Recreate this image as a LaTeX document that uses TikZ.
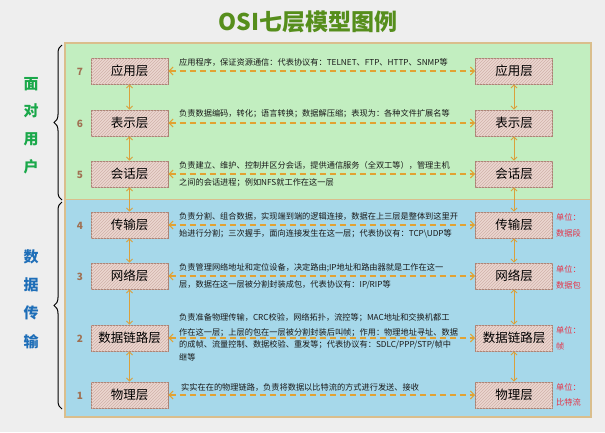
\documentclass[tikz,border=0pt]{standalone}
\usepackage{fontspec}
\setmainfont{Noto Sans CJK SC}
\usetikzlibrary{arrows.meta,patterns,decorations.pathreplacing}
\definecolor{bgc}{RGB}{238,238,238}
\definecolor{greenp}{RGB}{194,238,192}
\definecolor{bluep}{RGB}{166,216,234}
\definecolor{panelb}{RGB}{218,190,140}
\definecolor{boxfill}{RGB}{236,214,208}
\definecolor{boxline}{RGB}{170,130,115}
\definecolor{hatchc}{RGB}{208,178,170}
\definecolor{dashc}{RGB}{226,162,50}
\definecolor{varrow}{RGB}{218,160,60}
\definecolor{numc}{RGB}{160,112,82}
\definecolor{titlec}{RGB}{86,142,28}
\definecolor{greent}{RGB}{26,168,74}
\definecolor{bluet}{RGB}{30,110,184}
\definecolor{unitc}{RGB}{230,50,70}
\tikzset{
  layerbox/.style={draw=boxline, line width=0.8pt, fill=boxfill,
    postaction={pattern=north east lines, pattern color=hatchc},
    minimum width=77pt, minimum height=26pt, inner sep=0pt,
    font=\fontsize{12.5}{14}\selectfont},
  layernum/.style={text=numc, font=\bfseries\fontsize{10}{12}\selectfont},
  desc/.style={anchor=west, inner sep=0pt, text=black!90, font=\fontsize{8.2}{10}\selectfont},
  unit/.style={anchor=west, inner sep=0pt, text=unitc, font=\fontsize{8.2}{10}\selectfont},
  peer/.style={draw=dashc, line width=1.3pt, dash pattern=on 6pt off 4pt,
    {Straight Barb[length=4pt,width=8pt,line width=1pt]}-{Straight Barb[length=4pt,width=8pt,line width=1pt]}},
  updown/.style={draw=varrow, line width=1pt,
    {Straight Barb[length=3pt,width=6pt,line width=0.9pt]}-{Straight Barb[length=3pt,width=6pt,line width=0.9pt]}},
  sidelabel/.style={font=\bfseries\fontsize{15}{18}\selectfont},
  bracestyle/.style={draw=black, line width=1pt, decorate, decoration={brace, amplitude=8pt}}
}
\begin{document}
\begin{tikzpicture}[x=1pt,y=-1pt]
\useasboundingbox (0,0) rectangle (605,432);
\fill[bgc] (0,0) rectangle (605,432);
% title
\node[text=titlec, font=\bfseries\fontsize{23}{26}\selectfont] (title) at (308,22) {OSI七层模型图例};
% panels
\fill[greenp] (65,43) rectangle (591,199);
\fill[bluep] (65,199) rectangle (591,417);
\draw[panelb, line width=0.8pt] (65,199) -- (591,199);
\draw[panelb, line width=1.2pt] (65,43) rectangle (591,417);
% braces
\coordinate (gb1) at (62,200);
\coordinate (gb2) at (62,45);
\coordinate (bb1) at (62,409);
\coordinate (bb2) at (62,202);
\draw[bracestyle] (gb1) -- (gb2);
\draw[bracestyle] (bb1) -- (bb2);
% side labels
\node[sidelabel, text=greent] (s1) at (31,84) {面};
\node[sidelabel, text=greent] (s2) at (31,111) {对};
\node[sidelabel, text=greent] (s3) at (31,139) {用};
\node[sidelabel, text=greent] (s4) at (31,167) {户};
\node[sidelabel, text=bluet] (s5) at (31,257) {数};
\node[sidelabel, text=bluet] (s6) at (31,285) {据};
\node[sidelabel, text=bluet] (s7) at (31,313) {传};
\node[sidelabel, text=bluet] (s8) at (31,342) {输};
% layer boxes
\node[layerbox] (L7) at (129.5,71) {应用层};
\node[layerbox] (L6) at (129.5,123) {表示层};
\node[layerbox] (L5) at (129.5,174) {会话层};
\node[layerbox] (L4) at (129.5,225) {传输层};
\node[layerbox] (L3) at (129.5,276) {网络层};
\node[layerbox] (L2) at (129.5,338) {数据链路层};
\node[layerbox] (L1) at (129.5,395) {物理层};
\node[layerbox] (R7) at (514,71) {应用层};
\node[layerbox] (R6) at (514,123) {表示层};
\node[layerbox] (R5) at (514,174) {会话层};
\node[layerbox] (R4) at (514,225) {传输层};
\node[layerbox] (R3) at (514,276) {网络层};
\node[layerbox] (R2) at (514,338) {数据链路层};
\node[layerbox] (R1) at (514,395) {物理层};
% numbers
\node[layernum] (n7) at (80,72) {7};
\node[layernum] (n6) at (80,124) {6};
\node[layernum] (n5) at (80,175) {5};
\node[layernum] (n4) at (80,226) {4};
\node[layernum] (n3) at (80,277) {3};
\node[layernum] (n2) at (80,339) {2};
\node[layernum] (n1) at (80,396) {1};
% vertical arrows
\foreach \a/\b in {7/6,6/5,5/4,4/3,3/2,2/1}{
  \draw[updown] (L\a.south) -- (L\b.north);
  \draw[updown] (R\a.south) -- (R\b.north);
}
% peer arrows
\foreach \k in {7,6,5,4,3,2,1}{
  \draw[peer] (L\k.east) -- (R\k.west);
}
% descriptions
\node[desc] (d7) at (179,62) {应用程序，保证资源通信：代表协议有：TELNET、FTP、HTTP、SNMP等};
\node[desc] (d6) at (179,114) {负责数据编码，转化；语言转换；数据解压缩；表现为：各种文件扩展名等};
\node[desc] (d5a) at (179,165) {负责建立、维护、控制并区分会话，提供通信服务（全双工等），管理主机};
\node[desc] (d5b) at (179,183) {之间的会话进程；例如NFS就工作在这一层};
\node[desc] (d4a) at (179,216) {负责分割、组合数据，实现端到端的逻辑连接，数据在上三层是整体到这里开};
\node[desc] (d4b) at (179,234) {始进行分割；三次握手，面向连接发生在这一层；代表协议有：TCP\textbackslash UDP等};
\node[desc] (d3a) at (179,268) {负责管理网络地址和定位设备，决定路由;IP地址和路由器就是工作在这一};
\node[desc] (d3b) at (179,285) {层，数据在这一层被分割封装成包，代表协议有：IP/RIP等};
\node[desc] (d2a) at (179,318) {负责准备物理传输，CRC校验，网络拓扑，流控等；MAC地址和交换机都工};
\node[desc] (d2b) at (179,333) {作在这一层；上层的包在一层被分割封装后叫帧；作用：物理地址寻址、数据};
\node[desc] (d2c) at (179,345) {的成帧、流量控制、数据校验、重发等；代表协议有：SDLC/PPP/STP/帧中};
\node[desc] (d2d) at (179,357) {继等};
\node[desc] (d1) at (181,387) {实实在在的物理链路，负责将数据以比特流的方式进行发送、接收};
% units
\node[unit] (u4a) at (556,217) {单位：};
\node[unit] (u4b) at (556,233) {数据段};
\node[unit] (u3a) at (556,269) {单位：};
\node[unit] (u3b) at (556,285) {数据包};
\node[unit] (u2a) at (556,330) {单位：};
\node[unit] (u2b) at (556,346) {帧};
\node[unit] (u1a) at (556,387) {单位：};
\node[unit] (u1b) at (556,402) {比特流};
\end{tikzpicture}
\end{document}
